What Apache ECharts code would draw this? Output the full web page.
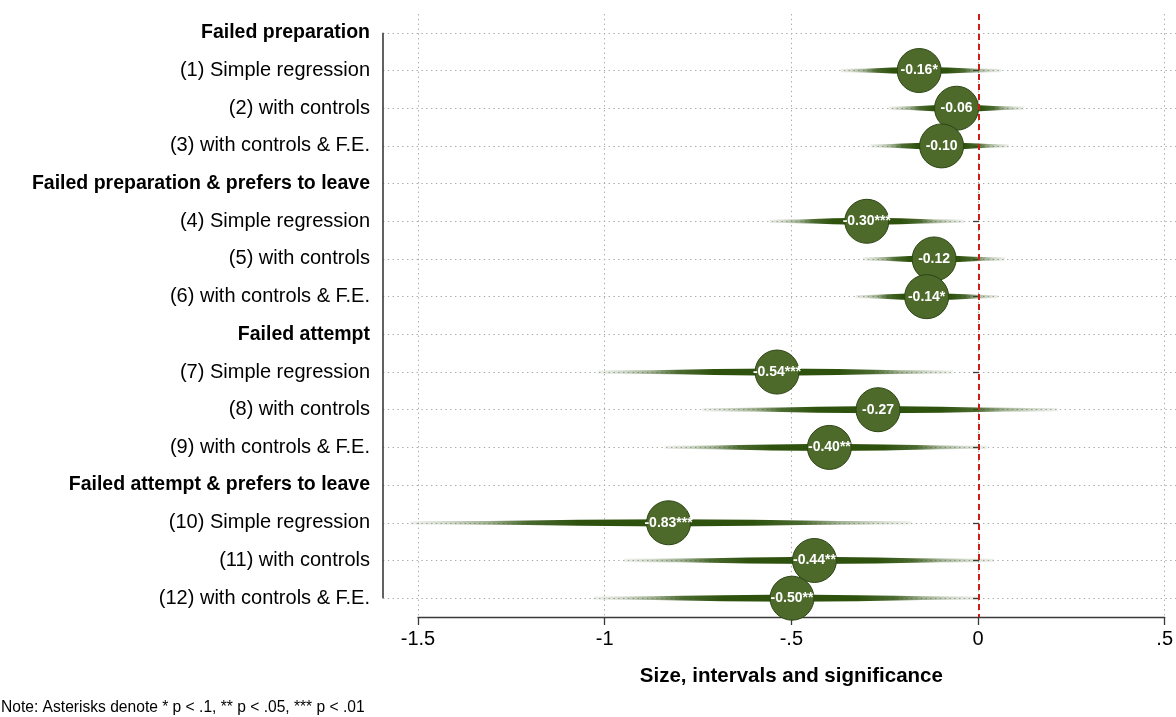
<!DOCTYPE html>
<html>
<head>
<meta charset="utf-8">
<script src="https://cdn.jsdelivr.net/npm/echarts@6/dist/echarts.min.js"></script>
<style>
html,body{margin:0;padding:0;background:#fff;}
#chart{width:1176px;height:717px;}
</style>
</head>
<body>
<div id="chart"></div>
<script>
// ---- data ----
const rowLabels = [
  'Failed preparation',
  '(1) Simple regression',
  '(2) with controls',
  '(3) with controls & F.E.',
  'Failed preparation & prefers to leave',
  '(4) Simple regression',
  '(5) with controls',
  '(6) with controls & F.E.',
  'Failed attempt',
  '(7) Simple regression',
  '(8) with controls',
  '(9) with controls & F.E.',
  'Failed attempt & prefers to leave',
  '(10) Simple regression',
  '(11) with controls',
  '(12) with controls & F.E.'
];
const headerRows = ['Failed preparation', 'Failed preparation & prefers to leave', 'Failed attempt', 'Failed attempt & prefers to leave'];
const modelRows = ['(1) Simple regression','(2) with controls','(3) with controls & F.E.','(4) Simple regression','(5) with controls','(6) with controls & F.E.','(7) Simple regression','(8) with controls','(9) with controls & F.E.','(10) Simple regression','(11) with controls','(12) with controls & F.E.'];
const estimates = [-0.16, -0.06, -0.10, -0.30, -0.12, -0.14, -0.54, -0.27, -0.40, -0.83, -0.44, -0.50];
const stars     = ['*', '', '', '***', '', '*', '***', '', '**', '***', '**', '**'];
const ciLow     = [-0.37, -0.24, -0.29, -0.56, -0.31, -0.33, -1.02, -0.74, -0.84, -1.52, -0.95, -1.03];
const ciHigh    = [ 0.06,  0.12,  0.08, -0.04,  0.07,  0.05, -0.07,  0.21,  0.02, -0.18,  0.04,  0.00];
const xTicks = [-1.5, -1, -0.5, 0, 0.5];
const xTickLabels = ['-1.5', '-1', '-.5', '0', '.5'];
const xAxisTitle = 'Size, intervals and significance';
const noteText = 'Note: Asterisks denote * p < .1, ** p < .05, *** p < .01';

// ---- layout ----
const FONT = '"Liberation Sans", Arial, Helvetica, sans-serif';
const PX_PER_UNIT = 374;
const G_LEFT = 383, G_TOP = 14, G_HEIGHT = 603, CHART_W = 1176;
const AX_LEFT = 418, AX_WIDTH = 748;
const XMIN = xTicks[0] - (AX_LEFT - G_LEFT) / PX_PER_UNIT;
const XMAX = XMIN + (CHART_W - G_LEFT) / PX_PER_UNIT;

const chart = echarts.init(document.getElementById('chart'), null, {renderer: 'canvas'});

const bandData = modelRows.map((r, i) => [ciLow[i], ciHigh[i], estimates[i], rowLabels.indexOf(r)]);
const pointData = modelRows.map((r, i) => [estimates[i], rowLabels.indexOf(r)]);
const pointLabels = estimates.map((v, i) => v.toFixed(2) + stars[i]);

function rgba(a) { return 'rgba(46,82,14,' + a.toFixed(3) + ')'; }

// profile along one side: fraction of half-range from estimate -> [half-height, alpha]
const profile = [[0, 3.6, 1], [0.35, 3.0, 1], [0.55, 2.3, 0.85], [0.7, 1.9, 0.45], [0.85, 1.7, 0.22], [1, 1.6, 0.08]];

function renderBand(params, api) {
  const lo = api.value(0), hi = api.value(1), est = api.value(2), row = api.value(3);
  const pL = api.coord([lo, row]), pR = api.coord([hi, row]), pE = api.coord([est, row]);
  const y = pE[1], L = pL[0], R = pR[0], E = pE[0];
  const w = R - L;
  const top = [], bot = [], stops = [];
  for (let k = profile.length - 1; k >= 0; k--) {
    const x = E - (E - L) * profile[k][0];
    top.push([x, y - profile[k][1]]);
    bot.push([x, y + profile[k][1]]);
    stops.push({offset: Math.min(1, Math.max(0, (x - L) / w)), color: rgba(profile[k][2])});
  }
  for (let k = 1; k < profile.length; k++) {
    const x = E + (R - E) * profile[k][0];
    top.push([x, y - profile[k][1]]);
    bot.push([x, y + profile[k][1]]);
    stops.push({offset: Math.min(1, Math.max(0, (x - L) / w)), color: rgba(profile[k][2])});
  }
  const points = top.concat(bot.reverse());
  return {
    type: 'polygon',
    shape: {points: points},
    style: {fill: new echarts.graphic.LinearGradient(0, 0, 1, 0, stops)}
  };
}

const gridLineStyle = {color: '#ababab', width: 1, type: [1.4, 3.4]};

const option = {
  backgroundColor: '#ffffff',
  animation: false,
  textStyle: {fontFamily: FONT},
  grid: [
    {left: G_LEFT, top: G_TOP, width: CHART_W - G_LEFT, height: G_HEIGHT, containLabel: false},
    {left: AX_LEFT, top: G_TOP, width: AX_WIDTH, height: G_HEIGHT, containLabel: false}
  ],
  xAxis: [
    {type: 'value', gridIndex: 0, min: XMIN, max: XMAX, show: false},
    {
      type: 'value', gridIndex: 1, min: xTicks[0], max: xTicks[xTicks.length - 1], interval: 0.5,
      axisLine: {show: true, lineStyle: {color: '#3a3a3a', width: 1.3}},
      axisTick: {show: true, length: 8, lineStyle: {color: '#3a3a3a', width: 1.3}},
      axisLabel: {
        fontSize: 20, color: '#000', margin: 12, fontFamily: FONT,
        formatter: v => { const k = xTicks.findIndex(t => Math.abs(t - v) < 1e-9); return k >= 0 ? xTickLabels[k] : ''; }
      },
      splitLine: {show: true, lineStyle: gridLineStyle},
      name: xAxisTitle, nameLocation: 'middle', nameGap: 49,
      nameTextStyle: {fontSize: 20.5, fontWeight: 'bold', color: '#000', fontFamily: FONT}
    }
  ],
  yAxis: [
    {
      type: 'category', gridIndex: 0, data: rowLabels, inverse: true, boundaryGap: true,
      axisLine: {show: false},
      axisTick: {show: true, alignWithLabel: true, length: 6, lineStyle: {color: '#3a3a3a', width: 1.3},
        interval: (i) => headerRows.indexOf(rowLabels[i]) < 0},
      axisLabel: {
        interval: 0, margin: 13, color: '#000', fontFamily: FONT,
        formatter: v => headerRows.indexOf(v) >= 0 ? '{h|' + v + '}' : '{n|' + v + '}',
        rich: {
          h: {fontSize: 19.5, fontWeight: 'bold', color: '#000', fontFamily: FONT},
          n: {fontSize: 20, color: '#000', fontFamily: FONT}
        }
      },
      splitLine: {show: false}
    },
    {type: 'category', gridIndex: 1, data: rowLabels, inverse: true, show: false}
  ],
  graphic: [
    {type: 'text', left: 1, top: 700, style: {text: noteText, fontSize: 15.6, fill: '#000', fontFamily: FONT}}
  ],
  series: [
    {
      type: 'line', xAxisIndex: 0, yAxisIndex: 0, data: [], z: 0, silent: true,
      markLine: {
        silent: true, symbol: 'none', animation: false, z: 0,
        label: {show: false},
        lineStyle: gridLineStyle,
        data: rowLabels.map(r => ({yAxis: r})).concat([[
          {coord: [XMIN, rowLabels[0]], lineStyle: {color: '#3a3a3a', width: 1.6, type: 'solid'}},
          {coord: [XMIN, rowLabels[rowLabels.length - 1]]}
        ]])
      }
    },
    {
      type: 'custom', xAxisIndex: 0, yAxisIndex: 0, z: 1, silent: true,
      renderItem: renderBand,
      encode: {x: [0, 1, 2], y: 3},
      data: bandData
    },
    {
      type: 'line', xAxisIndex: 0, yAxisIndex: 0, data: [], z: 2, silent: true,
      markLine: {
        silent: true, symbol: 'none', animation: false, label: {show: false}, z: 5,
        lineStyle: {color: '#cc1f1a', width: 2, type: [6, 4]},
        data: [{xAxis: 0}]
      }
    },
    {
      type: 'scatter', xAxisIndex: 0, yAxisIndex: 0, z: 3,
      symbol: 'circle', symbolSize: 44,
      itemStyle: {color: '#4d6a2b', borderColor: '#2c4514', borderWidth: 1, opacity: 1},
      label: {
        show: true, position: 'inside', color: '#fff', fontSize: 14, fontWeight: 'bold', fontFamily: FONT,
        formatter: p => pointLabels[p.dataIndex]
      },
      data: pointData
    }
  ]
};
chart.setOption(option);
</script>
</body>
</html>
